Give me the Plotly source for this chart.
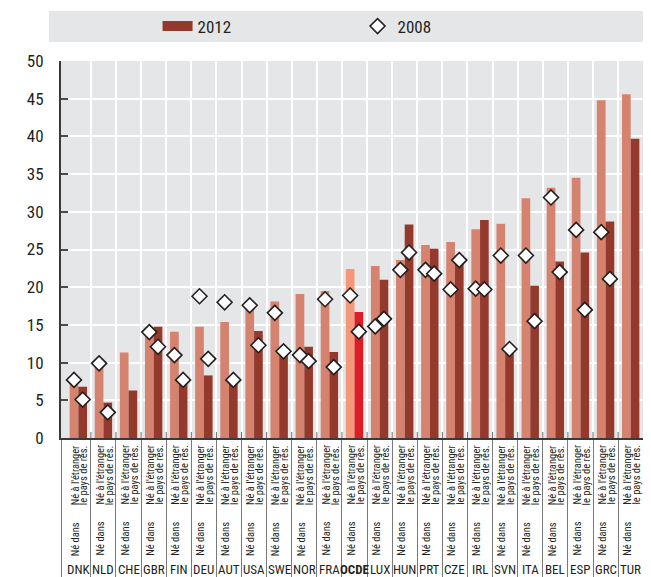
import plotly.graph_objects as go

countries = ["DNK", "NLD", "CHE", "GBR", "FIN", "DEU", "AUT", "USA", "SWE", "NOR", "FRA", "OCDE",
             "LUX", "HUN", "PRT", "CZE", "IRL", "SVN", "ITA", "BEL", "ESP", "GRC", "TUR"]
foreign_2012 = [7.3, 9.5, 11.35, 13.8, 14.1, 14.75, 15.4, 17.2, 18.1, 19.1, 19.5, 22.4,
                22.8, 23.6, 25.6, 26.0, 27.7, 28.4, 31.8, 33.2, 34.5, 44.8, 45.6]
native_2012 = [6.8, 4.7, 6.3, 14.75, 7.3, 8.3, 7.3, 14.2, 11.0, 12.1, 11.4, 16.7,
               21.0, 28.3, 25.1, 24.2, 28.9, 11.3, 20.2, 23.4, 24.6, 28.7, 39.7]
foreign_2008 = [7.7, 9.9, None, 14.05, 11.0, 18.8, 18.0, 17.6, 16.6, 11.0, 18.4, 18.9,
                14.8, 22.3, 22.3, 19.7, 19.8, 24.2, 24.2, 31.9, 27.6, 27.3, None]
native_2008 = [5.1, 3.4, None, 12.1, 7.7, 10.5, 7.7, 12.3, 11.5, 10.2, 9.4, 14.1,
               15.8, 24.6, 21.8, 23.6, 19.7, 11.8, 15.5, 22.0, 17.0, 21.1, None]
sub_labels = ["Né à l'étranger", "Né dans", "le pays de rés."]
y_ticks = [0, 5, 10, 15, 20, 25, 30, 35, 40, 45, 50]

FONT = "Roboto Condensed, Liberation Sans Narrow, DejaVu Sans Condensed, sans-serif"
TXT = "#231f20"
BG = "#e5e6e8"
DARK = "#943a2d"
n = len(countries)
idx = list(range(n))
half = 0.173
xf = [i - half for i in idx]
xn = [i + half for i in idx]

light_cols = ["#f4977b" if c == "OCDE" else "#d5826f" for c in countries]
dark_cols = ["#dd1d25" if c == "OCDE" else DARK for c in countries]

fig = go.Figure()
fig.add_trace(go.Bar(x=xf, y=foreign_2012, width=2 * half, marker=dict(color=light_cols, line_width=0),
                     showlegend=False, name="2012 étranger"))
fig.add_trace(go.Bar(x=xn, y=native_2012, width=2 * half, marker=dict(color=dark_cols, line_width=0),
                     showlegend=False, name="2012"))
# legend entry for 2012 drawn as a wide swatch
fig.add_trace(go.Scatter(x=[None], y=[None], mode="lines", line=dict(color=DARK, width=15),
                         name="2012"))
dmark = dict(symbol="diamond", size=11.5, color="white", line=dict(color="#231f20", width=1.6))
fig.add_trace(go.Scatter(x=xf, y=foreign_2008, mode="markers", marker=dmark, showlegend=False,
                         name="2008 étranger"))
fig.add_trace(go.Scatter(x=xn, y=native_2008, mode="markers", marker=dmark, name="2008"))

left, right = -0.69, n - 1 + 0.69
bounds = [left] + [i + 0.5 for i in range(n - 1)] + [right]

annotations = []
for i, c in enumerate(countries):
    annotations.append(dict(x=i - 0.115, y=-0.013, xref="x", yref="paper", text=sub_labels[0],
                            textangle=-90, showarrow=False, xanchor="center", yanchor="top",
                            font=dict(family=FONT, size=10.5, color=TXT)))
    annotations.append(dict(x=i - 0.115, y=-0.318, xref="x", yref="paper", text=sub_labels[1],
                            textangle=-90, showarrow=False, xanchor="center", yanchor="bottom",
                            font=dict(family=FONT, size=10.5, color=TXT)))
    annotations.append(dict(x=i + 0.24, y=-0.013, xref="x", yref="paper", text=sub_labels[2],
                            textangle=-90, showarrow=False, xanchor="center", yanchor="top",
                            font=dict(family=FONT, size=10.5, color=TXT)))
    annotations.append(dict(x=i, y=-0.3475, xref="x", yref="paper",
                            text=f"<b>{c}</b>" if c == "OCDE" else c,
                            showarrow=False, xanchor="center", yanchor="middle",
                            font=dict(family=FONT, size=13, color=TXT)))

shapes = [dict(type="rect", xref="paper", yref="paper", x0=(49 - 61) / 587, x1=(651 - 61) / 587,
               y0=1.0504, y1=1.1326, fillcolor=BG, line_width=0, layer="below")]
for b in bounds[1:]:
    shapes.append(dict(type="line", xref="x", yref="paper", x0=b, x1=b, y0=0, y1=0.016,
                       line=dict(color="#6a6a6a", width=1)))

# the page body adds an 8px offset; size and margins compensate for it
fig.update_layout(
    width=643, height=569,
    margin=dict(l=53, r=3, t=53, b=139, autoexpand=False),
    paper_bgcolor="white", plot_bgcolor=BG,
    barmode="overlay",
    font=dict(family=FONT, color=TXT),
    legend=dict(orientation="h", x=0.1645, xanchor="left", y=1.0915, yanchor="middle",
                bgcolor="rgba(0,0,0,0)", entrywidth=155, entrywidthmode="pixels",
                font=dict(family=FONT, size=17, color=TXT)),
    shapes=shapes,
    annotations=annotations,
    xaxis=dict(range=[left, right], tickvals=bounds, ticktext=[""] * len(bounds),
               ticks="outside", ticklen=139, tickwidth=1, tickcolor="#7a7a7a",
               showgrid=True, gridcolor="white", gridwidth=2, automargin=False,
               showline=True, linecolor="#3a3a3a", linewidth=2, zeroline=False),
    yaxis=dict(range=[0, 50], tickvals=y_ticks, ticks="inside", ticklen=7, tickwidth=2,
               tickcolor="#4a4a4a", showgrid=True, gridcolor="white", gridwidth=2, automargin=False,
               showline=True, linecolor="#3a3a3a", linewidth=2, zeroline=False,
               ticklabelstandoff=12, tickfont=dict(family=FONT, size=17, color=TXT)),
)

fig.write_html("out.html")
